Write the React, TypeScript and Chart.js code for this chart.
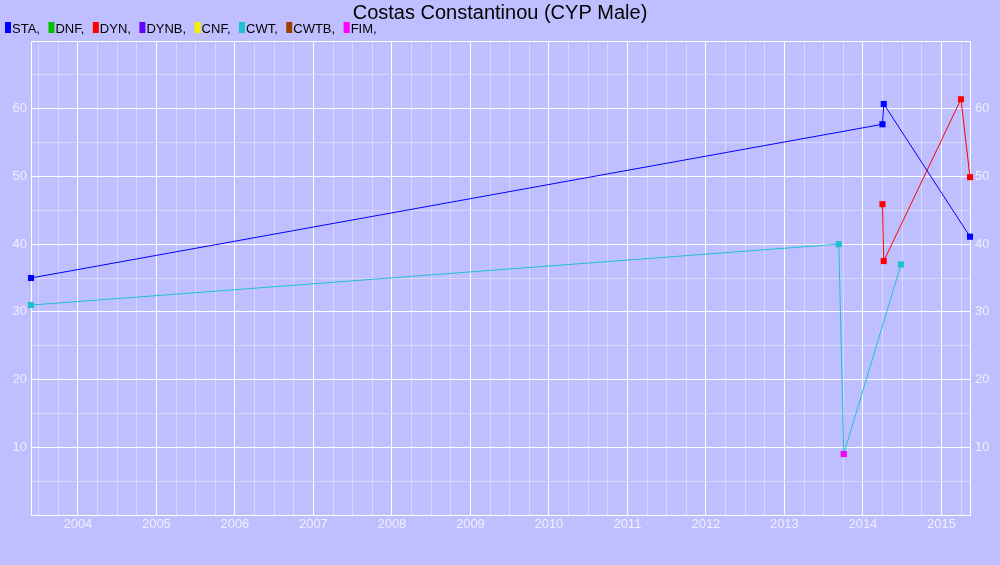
import React, { useEffect, useRef } from "react";
import { Chart, registerables } from "chart.js";

Chart.register(...registerables);

const TITLE = "Costas Constantinou (CYP Male)";
const legendLabels = ["STA", "DNF", "DYN", "DYNB", "CNF", "CWT", "CWTB", "FIM"];
const legendColors = ["#0000ff", "#00c000", "#ff0000", "#6600ff", "#f0f000", "#1ec0d4", "#a04000", "#ff00ff"];

const staDates = ["2003-05-28", "2014-04-02", "2014-04-08", "2015-05-14"];
const staValues = [35, 57.7, 60.7, 41.1];
const dynDates = ["2014-04-02", "2014-04-08", "2015-04-02", "2015-05-14"];
const dynValues = [45.9, 37.5, 61.4, 49.9];
const cwtDates = ["2003-05-28", "2013-09-11", "2013-10-04", "2014-06-27"];
const cwtValues = [31, 40, 9, 37];
const fimDates = ["2013-10-04"];
const fimValues = [9];

const yMin = 0;
const yMax = 70;

function toYear(s: string): number {
  const d = new Date(s + "T00:00:00Z");
  const y = d.getUTCFullYear();
  const a = Date.UTC(y, 0, 1);
  const b = Date.UTC(y + 1, 0, 1);
  return y + (d.getTime() - a) / (b - a);
}

function pts(dates: string[], values: number[]) {
  return dates.map((d, i) => ({ x: toYear(d), y: values[i] }));
}

const FONT = "'Liberation Sans', Arial, sans-serif";

export default function App() {
  const ref = useRef<HTMLCanvasElement | null>(null);
  useEffect(() => {
    const allX = [...staDates, ...dynDates, ...cwtDates, ...fimDates].map(toYear);
    const xMin = Math.min(...allX);
    const xMax = Math.max(...allX);
    const isInt = (v: number) => Math.abs(v - Math.round(v)) < 1e-6;

    const headerPlugin = {
      id: "header",
      afterDraw(chart: any) {
        const ctx = chart.ctx;
        ctx.save();
        ctx.fillStyle = "#000000";
        ctx.font = `20px ${FONT}`;
        ctx.textAlign = "center";
        ctx.textBaseline = "alphabetic";
        ctx.fillText(TITLE, 500, 19);
        ctx.font = `13px ${FONT}`;
        ctx.textAlign = "left";
        let x = 5;
        legendLabels.forEach((lab, i) => {
          ctx.fillStyle = legendColors[i];
          ctx.fillRect(x, 22, 6, 11);
          ctx.fillStyle = "#000000";
          const t = lab + ",";
          ctx.fillText(t, x + 7, 32.5);
          x += 7 + ctx.measureText(t).width + 8.5;
        });
        ctx.restore();
      },
    };

    const ds = (label: string, color: string, data: any[], showLine = true) => ({
      label,
      data,
      borderColor: color,
      backgroundColor: color,
      pointBackgroundColor: color,
      pointBorderWidth: 0,
      pointRadius: 4.3,
      pointHoverRadius: 4.3,
      pointStyle: "rect",
      borderWidth: 1,
      tension: 0,
      showLine,
      clip: false,
    });

    const chart = new Chart(ref.current as HTMLCanvasElement, {
      type: "line",
      data: {
        datasets: [
          ds("FIM", legendColors[7], pts(fimDates, fimValues), false),
          ds("STA", legendColors[0], pts(staDates, staValues)),
          ds("DYN", legendColors[2], pts(dynDates, dynValues)),
          ds("CWT", legendColors[5], pts(cwtDates, cwtValues)),
        ] as any,
      },
      options: {
        responsive: false,
        animation: false,
        layout: { padding: { top: 41, left: 0, right: 0, bottom: 0 } },
        plugins: {
          legend: { display: false },
          title: { display: false },
          tooltip: { enabled: false },
        },
        scales: {
          x: {
            type: "linear",
            min: xMin,
            max: xMax,
            afterBuildTicks(scale: any) {
              const ticks = [];
              for (let v = Math.ceil(xMin * 4) / 4; v <= xMax + 1e-9; v += 0.25) {
                ticks.push({ value: Math.round(v * 4) / 4 });
              }
              scale.ticks = ticks;
            },
            afterFit(scale: any) {
              scale.height = 50;
            },
            ticks: {
              autoSkip: false,
              maxRotation: 0,
              minRotation: 0,
              padding: 2,
              color: "#eeeeff",
              font: { family: FONT, size: 13 },
              callback: (v: any) => (isInt(Number(v)) ? String(Math.round(Number(v))) : ""),
            },
            grid: {
              drawTicks: false,
              lineWidth: 1,
              color: (c: any) => (c.tick && isInt(c.tick.value) ? "#ffffff" : "#d8d8f8"),
            },
            border: { color: "#ffffff", width: 1 },
          },
          y: {
            type: "linear",
            position: "left",
            min: yMin,
            max: yMax,
            afterFit(scale: any) {
              scale.width = 31;
            },
            ticks: {
              stepSize: 5,
              padding: 4,
              color: "#eeeeff",
              font: { family: FONT, size: 13 },
              callback: (v: any) => {
                const n = Number(v);
                return n % 10 === 0 && n > yMin && n < yMax ? String(n) : "";
              },
            },
            grid: {
              drawTicks: false,
              color: (c: any) => (c.tick && c.tick.value % 10 === 0 ? "#ffffff" : "#d8d8f8"),
            },
            border: { color: "#ffffff", width: 1 },
          },
          y2: {
            type: "linear",
            position: "right",
            min: yMin,
            max: yMax,
            afterFit(scale: any) {
              scale.width = 30;
            },
            ticks: {
              stepSize: 5,
              padding: 5,
              color: "#eeeeff",
              font: { family: FONT, size: 13 },
              callback: (v: any) => {
                const n = Number(v);
                return n % 10 === 0 && n > yMin && n < yMax ? String(n) : "";
              },
            },
            grid: { display: false, drawTicks: false },
            border: { color: "#ffffff", width: 1 },
          },
        },
      } as any,
      plugins: [headerPlugin],
    });
    return () => chart.destroy();
  }, []);

  return (
    <div style={{ position: "fixed", left: 0, top: 0, width: 1000, height: 565, background: "#bfbfff" }}>
      <canvas ref={ref} width={1000} height={565} style={{ display: "block" }} />
    </div>
  );
}
